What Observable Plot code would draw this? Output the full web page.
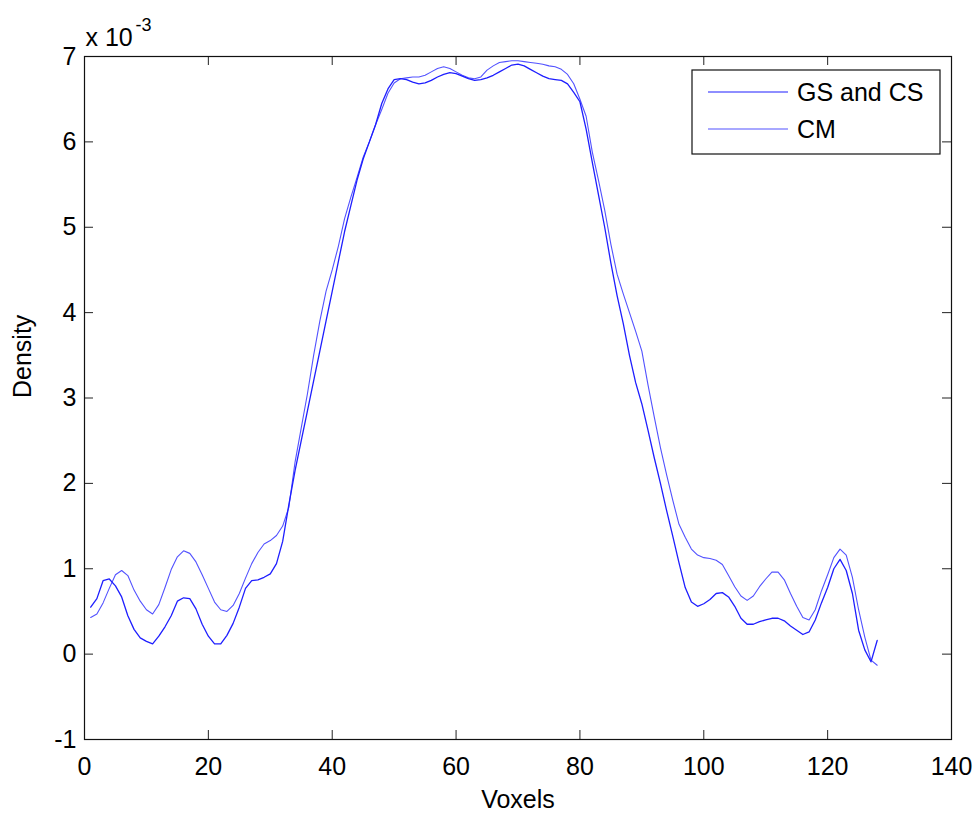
<!DOCTYPE html>
<html><head><meta charset="utf-8">
<script src="https://cdn.jsdelivr.net/npm/d3@7"></script>
<script src="https://cdn.jsdelivr.net/npm/@observablehq/plot@0.6"></script>
<style>body{margin:0;background:#fff}#chart svg{display:block}</style>
</head><body><div id="chart"></div>
<script>
// Density values in units of 10^-3
const voxels = d3.range(1, 129);
const gsAndCs = [
 0.55,0.65,0.86,0.88,0.80,0.67,0.45,0.29,0.19,0.15,
 0.12,0.21,0.32,0.45,0.62,0.66,0.65,0.53,0.35,0.21,
 0.12,0.12,0.22,0.36,0.55,0.77,0.86,0.87,0.90,0.94,
 1.06,1.32,1.75,2.15,2.50,2.85,3.20,3.55,3.90,4.25,
 4.60,4.95,5.25,5.55,5.80,6.00,6.20,6.45,6.62,6.73,
 6.74,6.73,6.70,6.68,6.69,6.72,6.76,6.79,6.81,6.80,
 6.77,6.74,6.72,6.73,6.75,6.78,6.82,6.86,6.90,6.91,
 6.89,6.85,6.81,6.77,6.74,6.73,6.72,6.68,6.58,6.47,
 6.15,5.76,5.38,5.00,4.58,4.20,3.87,3.50,3.18,2.93,
 2.62,2.30,2.00,1.68,1.38,1.07,0.78,0.61,0.56,0.59,
 0.64,0.71,0.72,0.67,0.56,0.42,0.35,0.35,0.38,0.40,
 0.42,0.42,0.39,0.33,0.28,0.23,0.26,0.40,0.60,0.78,
 1.00,1.11,0.98,0.71,0.28,0.05,-0.09,0.16
];
const cm = [
 0.43,0.47,0.60,0.77,0.93,0.98,0.92,0.75,0.62,0.52,
 0.47,0.58,0.78,0.99,1.14,1.21,1.18,1.08,0.93,0.77,
 0.61,0.52,0.50,0.57,0.71,0.89,1.06,1.19,1.29,1.33,
 1.39,1.50,1.72,2.25,2.65,3.05,3.50,3.90,4.25,4.50,
 4.78,5.10,5.35,5.58,5.82,6.00,6.20,6.38,6.57,6.69,
 6.74,6.75,6.76,6.76,6.78,6.82,6.86,6.88,6.86,6.82,
 6.78,6.75,6.74,6.76,6.84,6.89,6.93,6.94,6.95,6.95,
 6.94,6.93,6.92,6.91,6.89,6.88,6.85,6.79,6.68,6.50,
 6.30,5.88,5.55,5.20,4.80,4.45,4.22,4.00,3.78,3.55,
 3.15,2.78,2.42,2.10,1.80,1.52,1.37,1.23,1.16,1.13,
 1.12,1.10,1.05,0.92,0.79,0.68,0.63,0.68,0.79,0.88,
 0.96,0.96,0.87,0.71,0.56,0.43,0.40,0.52,0.74,0.93,
 1.13,1.23,1.16,0.90,0.52,0.20,-0.07,-0.13
];
const seriesNames = ["GS and CS", "CM"];
const seriesColors = ["#1e1eff", "#5252ff"];
const xTicks = [0, 20, 40, 60, 80, 100, 120, 140];
const yTicks = [-1, 0, 1, 2, 3, 4, 5, 6, 7];
const xLabel = "Voxels";
const yLabel = "Density";
const expBase = "x 10";
const expPower = "-3";

const W = 980, H = 813;
const mL = 84, mR = 29, mT = 56, mB = 74;
const innerW = W - mL - mR, innerH = H - mT - mB;
const tickLen = 9;
const fs = 25;
const font = "'Liberation Sans', Arial, Helvetica, sans-serif";

const rows = [];
seriesNames.forEach((s, i) => {
  const vals = i === 0 ? gsAndCs : cm;
  voxels.forEach((v, j) => rows.push({series: s, x: v, y: vals[j]}));
});

const chart = Plot.plot({
  width: W, height: H,
  marginLeft: mL, marginRight: mR, marginTop: mT, marginBottom: mB,
  style: {fontFamily: font, fontSize: fs + "px", color: "#000", background: "#fff"},
  x: {domain: [0, 140]},
  y: {domain: [-1, 7]},
  color: {domain: seriesNames, range: seriesColors},
  marks: [
    Plot.axisX({ticks: xTicks, tickSize: 0, tickPadding: 18, label: null, tickFormat: d => String(d), fontSize: fs}),
    Plot.axisY({ticks: yTicks, tickSize: 0, tickPadding: 8, label: null, tickFormat: d => String(d), fontSize: fs}),
    // inward ticks on all four sides
    Plot.ruleX(xTicks, {x: d => d, insetTop: innerH - tickLen, stroke: "#222", strokeWidth: 1}),
    Plot.ruleX(xTicks, {x: d => d, insetBottom: innerH - tickLen, stroke: "#222", strokeWidth: 1}),
    Plot.ruleY(yTicks, {y: d => d, insetRight: innerW - tickLen, stroke: "#222", strokeWidth: 1}),
    Plot.ruleY(yTicks, {y: d => d, insetLeft: innerW - tickLen, stroke: "#222", strokeWidth: 1}),
    Plot.line(rows.filter(d => d.series === seriesNames[1]), {x: "x", y: "y", stroke: "series", strokeWidth: 1.1}),
    Plot.line(rows.filter(d => d.series === seriesNames[0]), {x: "x", y: "y", stroke: "series", strokeWidth: 1.3}),
    Plot.frame({stroke: "#111", strokeWidth: 1.2}),
    Plot.text([xLabel], {text: d => d, frameAnchor: "bottom", dy: 68, lineAnchor: "bottom", fontSize: fs}),
    Plot.text([yLabel], {text: d => d, frameAnchor: "left", dx: -62, rotate: -90, lineAnchor: "middle", fontSize: fs}),
    Plot.text([expBase], {text: d => d, frameAnchor: "top-left", dx: 1, dy: -11, textAnchor: "start", lineAnchor: "bottom", fontSize: fs}),
    Plot.text([expPower], {text: d => d, frameAnchor: "top-left", dx: 51, dy: -26, textAnchor: "start", lineAnchor: "bottom", fontSize: 18})
  ]
});

// Legend (MATLAB-style box inside the axes, top right)
const svg = d3.select(chart);
const lg = svg.append("g").attr("font-family", font).attr("font-size", fs).attr("text-anchor", "start");
const lx = 692, ly = 70, lw = 248, lh = 84;
lg.append("rect").attr("x", lx).attr("y", ly).attr("width", lw).attr("height", lh)
  .attr("fill", "#fff").attr("stroke", "#111").attr("stroke-width", 1.2);
seriesNames.forEach((s, i) => {
  const cy = ly + 22 + i * 37;
  lg.append("line").attr("x1", lx + 16).attr("x2", lx + 96).attr("y1", cy).attr("y2", cy)
    .attr("stroke", seriesColors[i]).attr("stroke-width", 1.2);
  lg.append("text").attr("x", lx + 105).attr("y", cy).attr("dy", "0.35em")
    .attr("text-anchor", "start").attr("fill", "#000").text(s);
});

document.getElementById("chart").appendChild(chart);
</script>
</body></html>
